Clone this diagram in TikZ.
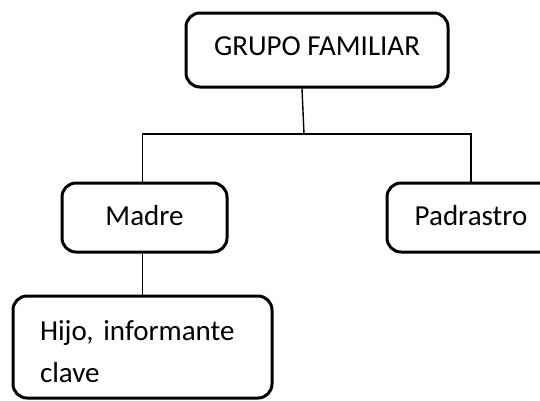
\documentclass[tikz,border=0pt]{standalone}
\usepackage{fontspec}
\setmainfont{Carlito}
\begin{document}
\frenchspacing
\begin{tikzpicture}[x=1pt,y=-1pt,
  box/.style={draw=black, line width=3pt, rounded corners=14pt, inner sep=0pt,
    font=\fontsize{29}{42}\selectfont, text height=20pt, text depth=5pt},
  conn/.style={draw=black, line width=1.4pt}]
\clip (0,0) rectangle (540,400);
\fill[white] (0,0) rectangle (540,400);
\node[box, minimum width=262pt, minimum height=74pt, text depth=10pt] (gf) at (317,50) {GRUPO FAMILIAR};
\node[box, minimum width=165pt, minimum height=69pt] (madre) at (144.5,217.5) {Madre};
\node[box, minimum width=168pt, minimum height=69pt] (padre) at (471,217.5) {Padrastro};
\node[box, minimum width=259pt, minimum height=102pt, text width=205pt, align=left,
  inner xsep=27pt, text height=, text depth=] (hijo) at (142.5,347)
  {\rule{0pt}{28.3pt}\hbox{Hijo, informante}\\clave};
\coordinate (j) at (304,134);
\draw[conn] ([xshift=-15pt]gf.south) -- (j);
\draw[conn] ([xshift=-2pt]madre.north) |- (j) -| (padre.north);
\draw[conn] ([xshift=-2pt]madre.south) -- ([xshift=-2pt]madre.south |- hijo.north);
\end{tikzpicture}
\end{document}
